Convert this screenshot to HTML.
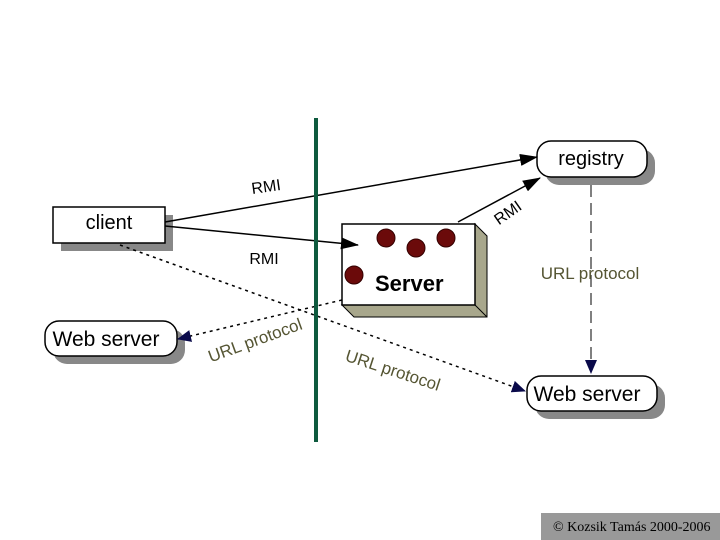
<!DOCTYPE html>
<html><head><style>body{margin:0;background:#fff}svg{display:block}</style></head><body>
<svg width="720" height="540" viewBox="0 0 720 540" xmlns="http://www.w3.org/2000/svg" font-family="Liberation Sans, sans-serif">
<defs>
<marker id="ab" markerWidth="18" markerHeight="12" refX="17" refY="6" orient="auto" markerUnits="userSpaceOnUse"><path d="M0,0 L18,6 L0,12 z" fill="#000"/></marker>
<marker id="an" markerWidth="14" markerHeight="12" refX="13" refY="6" orient="auto" markerUnits="userSpaceOnUse"><path d="M0,0 L14,6 L0,12 z" fill="#0a0a4a"/></marker>
</defs>
<!-- client -->
<rect x="61" y="215" width="112" height="36" fill="#888"/>
<rect x="53" y="207" width="112" height="36" fill="#fff" stroke="#000" stroke-width="1.5"/>
<text x="109" y="229" font-size="20" text-anchor="middle">client</text>
<!-- registry -->
<rect x="545" y="149" width="110" height="36" rx="14" fill="#888"/>
<rect x="537" y="141" width="110" height="36" rx="14" fill="#fff" stroke="#000" stroke-width="1.5"/>
<text x="591" y="165" font-size="20" text-anchor="middle">registry</text>
<!-- web server left -->
<rect x="53" y="329" width="132" height="35" rx="14" fill="#888"/>
<rect x="45" y="321" width="132" height="35" rx="14" fill="#fff" stroke="#000" stroke-width="1.5"/>
<text x="106" y="346" font-size="21" text-anchor="middle">Web server</text>
<!-- web server right -->
<rect x="535" y="384" width="130" height="35" rx="14" fill="#888"/>
<rect x="527" y="376" width="130" height="35" rx="14" fill="#fff" stroke="#000" stroke-width="1.5"/>
<text x="587" y="401" font-size="21" text-anchor="middle">Web server</text>
<!-- server box -->
<polygon points="475,224 487,236 487,317 354,317 342,305 475,305" fill="#a8a78c" stroke="#000" stroke-width="1"/>
<line x1="475" y1="305" x2="487" y2="317" stroke="#000"/>
<rect x="342" y="224" width="133" height="81" fill="#fff" stroke="#000" stroke-width="1.5"/>
<circle cx="386" cy="238" r="9" fill="#6b0a0a" stroke="#300" /> 
<circle cx="416" cy="248" r="9" fill="#6b0a0a" stroke="#300"/>
<circle cx="446" cy="238" r="9" fill="#6b0a0a" stroke="#300"/>
<circle cx="354" cy="275" r="9" fill="#6b0a0a" stroke="#300"/>
<text x="375" y="291" font-size="22" font-weight="bold">Server</text>
<!-- lines -->
<line x1="165" y1="222" x2="537" y2="157" stroke="#000" stroke-width="1.5" marker-end="url(#ab)"/>
<line x1="165" y1="226" x2="358" y2="245" stroke="#000" stroke-width="1.5" marker-end="url(#ab)"/>
<line x1="458" y1="222" x2="540" y2="178" stroke="#000" stroke-width="1.5" marker-end="url(#ab)"/>
<line x1="120" y1="245" x2="525" y2="391" stroke="#000" stroke-width="1.5" stroke-dasharray="3,4" marker-end="url(#an)"/>
<line x1="342" y1="300" x2="178" y2="339" stroke="#000" stroke-width="1.5" stroke-dasharray="3,4" marker-end="url(#an)"/>
<line x1="591" y1="185" x2="591" y2="373" stroke="#000" stroke-width="1" stroke-dasharray="12,6" marker-end="url(#an)"/>
<!-- green bar -->
<rect x="314" y="118" width="4" height="324" fill="#0e5a3e"/>
<!-- labels -->
<text x="266" y="192" font-size="16" text-anchor="middle" transform="rotate(-8 266 186)">RMI</text>
<text x="264" y="264" font-size="16" text-anchor="middle">RMI</text>
<text x="508" y="218" font-size="16" text-anchor="middle" transform="rotate(-35 508 213)">RMI</text>
<text x="590" y="279" font-size="17" fill="#555533" text-anchor="middle">URL protocol</text>
<text x="255" y="346" font-size="17" fill="#555533" text-anchor="middle" transform="rotate(-20 255 340)">URL protocol</text>
<text x="393" y="376" font-size="17" fill="#555533" text-anchor="middle" transform="rotate(18 393 370)">URL protocol</text>
<!-- footer -->
<rect x="541" y="513" width="179" height="27" fill="#999"/>
<text x="553" y="531" font-size="14" font-family="Liberation Serif, serif">© Kozsik Tamás 2000-2006</text>
</svg>
</body></html>
